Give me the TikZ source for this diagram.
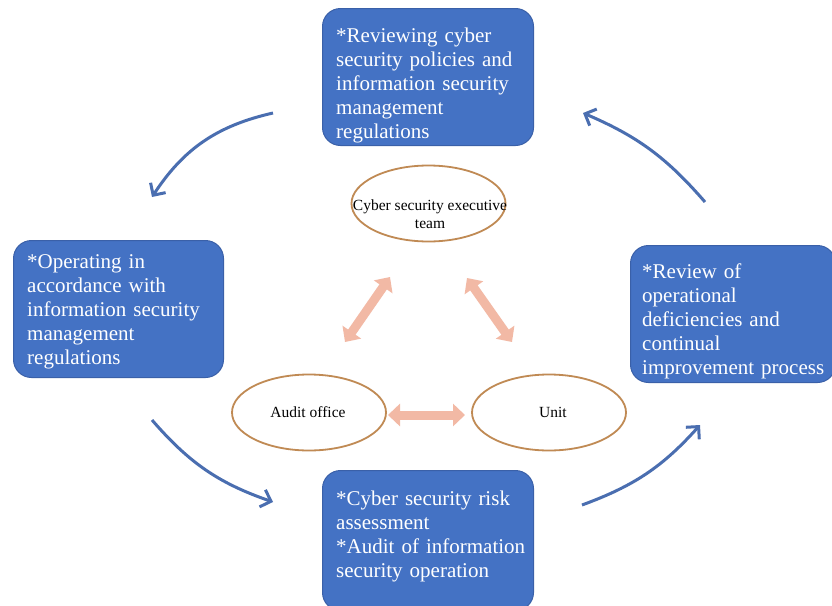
\documentclass[tikz,border=0pt]{standalone}
\usepackage{fontspec}
\setmainfont{Liberation Serif}
\usetikzlibrary{shapes.geometric,arrows.meta}
\definecolor{boxblue}{RGB}{68,114,196}
\definecolor{boxedge}{RGB}{58,96,168}
\definecolor{flowblue}{RGB}{74,110,176}
\definecolor{peach}{RGB}{242,185,165}
\definecolor{elledge}{RGB}{192,138,84}
\begin{document}
\begin{tikzpicture}[x=1pt,y=-1pt,
  bluebox/.style={draw=boxedge, line width=1pt, fill=boxblue, rounded corners=18pt, anchor=north west, inner sep=0pt},
  boxtext/.style={text=white, anchor=base west, inner sep=0pt, align=left, text width=205pt, font=\fontsize{21}{24}\selectfont},
  oval/.style={ellipse, draw=elledge, line width=1.8pt, minimum width=154pt, minimum height=76pt, inner sep=0pt},
  ovaltext/.style={inner sep=0pt, align=center, font=\fontsize{15.5}{18}\selectfont},
  flow/.style={draw=flowblue, line width=3pt, -{Straight Barb[length=9pt,width=18pt]}},
  link/.style={draw=peach, line width=9pt, {Triangle[length=12pt,width=22pt]}-{Triangle[length=12pt,width=22pt]}}
]
\useasboundingbox[fill=white] (0,0) rectangle (832,605);

% blue boxes
\node[bluebox, minimum width=211pt, minimum height=137pt] (topbox) at (322,8) {};
\node[bluebox, minimum width=210pt, minimum height=137pt] (leftbox) at (13,240) {};
\node[bluebox, minimum width=205pt, minimum height=137pt] (rightbox) at (630,245) {};
\node[bluebox, minimum width=211pt, minimum height=140pt] (botbox) at (322,470) {};

\node[boxtext] (toptext) at (336,42) {*Reviewing cyber\\security policies and\\information security\\management\\regulations};
\node[boxtext] (lefttext) at (27,268) {*Operating in\\accordance with\\information security\\management\\regulations};
\node[boxtext] (righttext) at (642,278) {*Review of\\operational\\deficiencies and\\continual\\improvement process};
\node[boxtext] (bottext) at (336,505) {*Cyber security risk\\assessment\\{}*Audit of information\\security operation};

% ellipses
\node[oval] (exec) at (428.5,203.5) {};
\node[oval] (audit) at (309,412.5) {};
\node[oval] (unit) at (549,412.5) {};
\node[ovaltext, anchor=base] (exectext) at (430,228) {Cyber security executive\\team};
\node[ovaltext, anchor=base] (audittext) at (308,417) {Audit office};
\node[ovaltext, anchor=base] (unittext) at (553,417) {Unit};

% peach double arrows
\coordinate (l1a) at (345,342); \coordinate (l1b) at (390,277);
\coordinate (l2a) at (467,278); \coordinate (l2b) at (512,342);
\coordinate (l3a) at (388,415); \coordinate (l3b) at (465,415);
\draw[link] (l1a) -- (l1b);
\draw[link] (l2a) -- (l2b);
\draw[link] (l3a) -- (l3b);

% blue cycle arrows
\coordinate (f1s) at (273,113); \coordinate (f1e) at (152,197);
\coordinate (f2s) at (152,420); \coordinate (f2e) at (273,502);
\coordinate (f3s) at (582,505); \coordinate (f3e) at (700,425);
\coordinate (f4s) at (705,202); \coordinate (f4e) at (583,113);
\draw[flow] (f1s) to[bend right=22] (f1e);
\draw[flow] (f2s) to[bend right=15] (f2e);
\draw[flow] (f3s) to[bend right=14] (f3e);
\draw[flow] (f4s) to[bend right=13] (f4e);
\end{tikzpicture}
\end{document}
